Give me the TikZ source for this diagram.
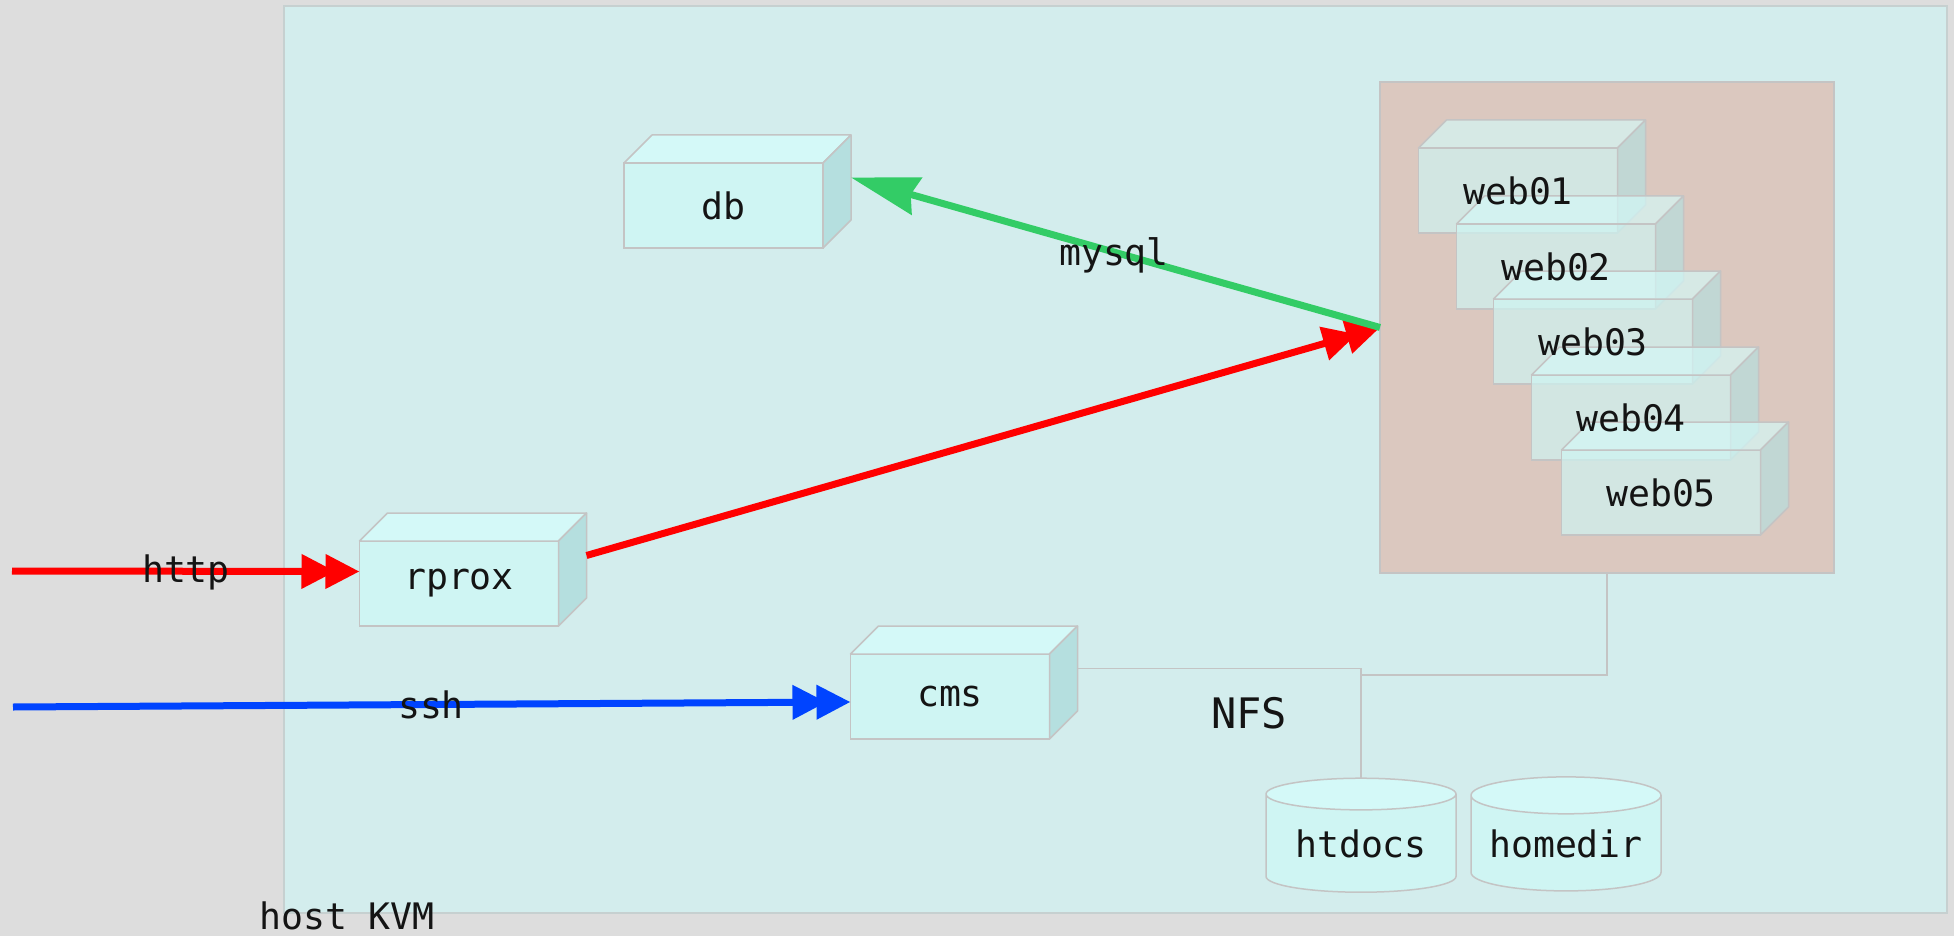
\documentclass[tikz,border=0pt]{standalone}
\usepackage{fontspec}
\setmonofont{DejaVu Sans Mono}
\usetikzlibrary{arrows.meta,shapes.geometric}
\definecolor{canvas}{HTML}{DDDDDD}
\definecolor{hostfill}{HTML}{D3EDED}
\definecolor{hostline}{HTML}{C6D0D0}
\definecolor{farmfill}{HTML}{DBC8BF}
\definecolor{boxfront}{HTML}{CFF5F3}
\definecolor{boxtop}{HTML}{D4F9F8}
\definecolor{boxside}{HTML}{B5DFDF}
\definecolor{boxline}{HTML}{C4C4C4}
\definecolor{httpred}{HTML}{FF0000}
\definecolor{sshblue}{HTML}{0044FF}
\definecolor{sqlgreen}{HTML}{33CC66}
\definecolor{ink}{HTML}{141414}
\begin{document}
\begin{tikzpicture}[x=1pt,y=-1pt,font=\ttfamily\fontsize{36.5}{44}\selectfont,text=ink,
vm/.style={rectangle,draw=boxline,fill=boxfront,line width=1.5pt,minimum width=199pt,minimum height=85pt,inner sep=0pt,outer sep=0pt},
webvm/.style={vm,fill opacity=.68},
face/.style={draw=boxline,line width=1.5pt,line join=round},
disk/.style={cylinder,shape border rotate=90,aspect=.24,draw=boxline,line width=1.5pt,cylinder uses custom fill,cylinder body fill=boxfront,cylinder end fill=boxtop,minimum width=190pt,minimum height=114pt,inner sep=0pt,outer sep=0pt},
area/.style={rectangle,line width=1.5pt,inner sep=0pt,outer sep=0pt},
redarrow/.style={draw=httpred,line width=7pt,-{Triangle[length=34pt,width=33pt,sep=-10pt]Triangle[length=34pt,width=33pt]}},
bluearrow/.style={draw=sshblue,line width=7pt,-{Triangle[length=34pt,width=33pt,sep=-10pt]Triangle[length=34pt,width=33pt]}},
greenarrow/.style={draw=sqlgreen,line width=7pt,-{Stealth[length=68pt,width=38pt,inset=6pt]}},
nfsline/.style={draw=boxline,line width=1.5pt}]
\useasboundingbox (0,0) rectangle (1954,936);
\fill[canvas] (0,0) rectangle (1954,936);
\node[area,draw=hostline,fill=hostfill,minimum width=1663pt,minimum height=907pt] (kvm) at (1115.5,459.5) {};
\node[area,draw=boxline,fill=farmfill,minimum width=454pt,minimum height=491pt] (webfarm) at (1607,327.5) {};
\foreach \n/\x/\y in {db/723.5/205.5,rprox/459/583.5,cms/950/696.5}{
\node[vm] (\n) at (\x,\y) {\n};
\draw[face,fill=boxtop] (\n.north west) -- ++(28,-28) -- ++(199,0) -- (\n.north east) -- cycle;
\draw[face,fill=boxside] (\n.north east) -- ++(28,-28) -- ++(0,85) -- (\n.south east) -- cycle;}
\foreach \n/\x/\y in {web01/1518/190.5,web02/1556/266.5,web03/1593/341.5,web04/1631/417.5,web05/1661/492.5}{
\node[webvm] (\n) at (\x,\y) {};
\draw[face,fill=boxtop,fill opacity=.68] (\n.north west) -- ++(28,-28) -- ++(199,0) -- (\n.north east) -- cycle;
\draw[face,fill=boxside,fill opacity=.68] (\n.north east) -- ++(28,-28) -- ++(0,85) -- (\n.south east) -- cycle;}
\foreach \n in {web01,web02,web03,web04,web05}{\node (\n txt) at (\n) {\n};}
\node[disk] (htdocs) at (1361,843.5) {htdocs};
\node[disk] (homedir) at (1566,843.5) {homedir};
\draw[nfsline] ([shift={(28pt,28pt)}]cms.east) -| (htdocs.north);
\draw[nfsline] (webfarm.south) -- ++(0,102) -| (htdocs.north);
\coordinate (httpin) at (12,571);
\coordinate (sshin) at (13,707);
\draw[redarrow] (httpin) -- ([yshift=12pt]rprox.west);
\draw[bluearrow] (sshin) -- ([yshift=-5.5pt]cms.west);
\draw[redarrow] ([shift={(28pt,28pt)}]rprox.east) -- (webfarm.west);
\draw[greenarrow] (webfarm.west) -- ([shift={(28pt,28pt)}]db.east);
\node (httplbl) at (186,572) {http};
\node (sshlbl) at (431,705) {ssh};
\node (sqllbl) at (1114,255) {mysql};
\node[font=\ttfamily\fontsize{42}{50}\selectfont] (nfslbl) at (1249,713) {NFS};
\node[anchor=base] (kvmlbl) at (347,929) {host KVM};
\end{tikzpicture}
\end{document}
